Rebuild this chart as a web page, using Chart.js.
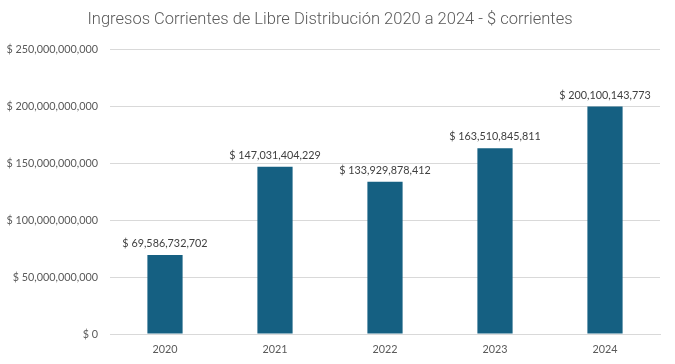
<!DOCTYPE html>
<html>
<head>
<meta charset="utf-8">
<script src="https://cdn.jsdelivr.net/npm/chart.js@4"></script>
<style>
  html, body { margin: 0; padding: 0; background: #ffffff; }
  #wrap { width: 675px; height: 364px; position: relative; }
</style>
</head>
<body>
<div id="wrap"><canvas id="chart"></canvas></div>
<script>
const years = ['2020', '2021', '2022', '2023', '2024'];
const ingresos = [69586732702, 147031404229, 133929878412, 163510845811, 200100143773];
const yTicks = [0, 50000000000, 100000000000, 150000000000, 200000000000, 250000000000];

function formatPesos(v) {
    return '$ ' + Math.round(v).toLocaleString('en-US');
}

// draw the value above each bar
const barLabels = {
    id: 'barLabels',
    afterDatasetsDraw(chart) {
        const ctx = chart.ctx;
        const meta = chart.getDatasetMeta(0);
        ctx.save();
        ctx.font = '10.8px Lato';
        ctx.fillStyle = '#404040';
        ctx.textAlign = 'center';
        ctx.textBaseline = 'bottom';
        meta.data.forEach((bar, i) => {
            ctx.fillText(formatPesos(ingresos[i]), bar.x, bar.y - 6);
        });
        ctx.restore();
    }
};

const ctx = document.getElementById('chart').getContext('2d');
new Chart(ctx, {
    type: 'bar',
    data: {
        labels: years,
        datasets: [{
            data: ingresos,
            backgroundColor: '#156082',
            barPercentage: 0.32,
            categoryPercentage: 1.0
        }]
    },
    options: {
        responsive: true,
        maintainAspectRatio: false,
        animation: false,
        layout: {
            padding: { left: 0, right: 15, top: 10, bottom: 7 }
        },
        plugins: {
            legend: { display: false },
            tooltip: { enabled: false },
            title: {
                display: true,
                text: 'Ingresos Corrientes de Libre Distribución 2020 a 2024 - $ corrientes',
                color: '#595959',
                font: { family: 'Roboto', size: 16.5, weight: '300' },
                padding: { top: 0, bottom: 20 }
            }
        },
        scales: {
            x: {
                grid: { display: false },
                border: { color: '#d9d9d9' },
                ticks: {
                    color: '#595959',
                    font: { family: 'Lato', size: 10.8 },
                    padding: 1
                }
            },
            y: {
                min: 0,
                max: 250000000000,
                afterBuildTicks(axis) {
                    axis.ticks = yTicks.map(v => ({ value: v }));
                },
                afterFit(axis) {
                    axis.width = 110;
                },
                grid: { color: '#d9d9d9', drawTicks: false },
                border: { display: false },
                ticks: {
                    color: '#595959',
                    font: { family: 'Lato', size: 10.8 },
                    padding: 12,
                    callback: v => formatPesos(v)
                }
            }
        }
    },
    plugins: [barLabels]
});
</script>
</body>
</html>
